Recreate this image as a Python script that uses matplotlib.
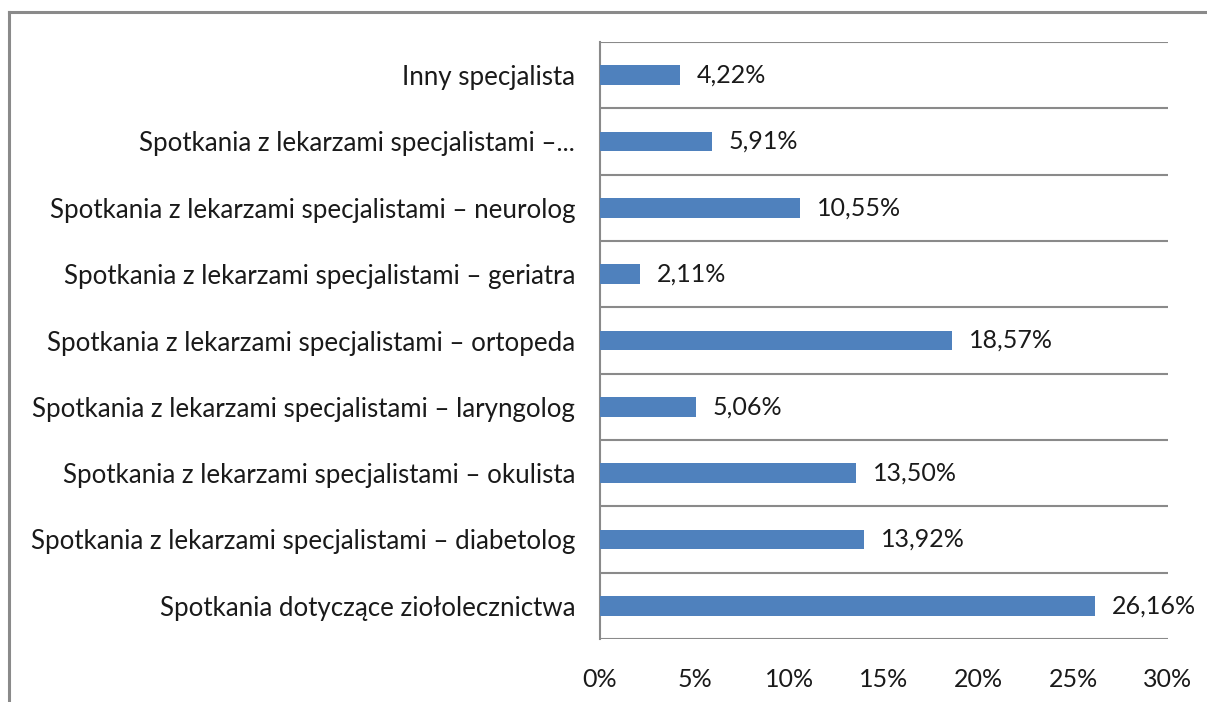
import matplotlib
matplotlib.use('Agg')
import matplotlib.pyplot as plt
from matplotlib.lines import Line2D
import numpy as np

categories = [
    'Spotkania dotyczące ziołolecznictwa',
    'Spotkania z lekarzami specjalistami – diabetolog',
    'Spotkania z lekarzami specjalistami – okulista',
    'Spotkania z lekarzami specjalistami – laryngolog',
    'Spotkania z lekarzami specjalistami – ortopeda',
    'Spotkania z lekarzami specjalistami – geriatra',
    'Spotkania z lekarzami specjalistami – neurolog',
    'Spotkania z lekarzami specjalistami –...',
    'Inny specjalista',
]
values = [26.16, 13.92, 13.50, 5.06, 18.57, 2.11, 10.55, 5.91, 4.22]
xticks = [0, 5, 10, 15, 20, 25, 30]

plt.rcParams['font.family'] = ['Lato', 'DejaVu Sans']
grey = '#8a8a8a'
fs = 18

fig = plt.figure(figsize=(12.07, 7.02), dpi=100)
ax = fig.add_axes([600 / 1207, 1 - 639 / 702, 568 / 1207, 597 / 702])

y = np.arange(len(categories))
ax.barh(y, values, height=0.3, color='#4f81bd', zorder=3)
for yi, v in zip(y, values):
    ax.text(v + 0.9, yi, f'{v:.2f}%'.replace('.', ','), va='center', ha='left',
            fontsize=fs, color='#1a1a1a')

ax.set_xlim(0, 30)
ax.set_ylim(-0.5, len(categories) - 0.5)
ax.set_xticks(xticks)
ax.set_xticklabels([f'{t}%' for t in xticks], fontsize=fs, color='#1a1a1a')
ax.set_yticks(y)
ax.set_yticklabels(categories, fontsize=18.6, color='#1a1a1a')
ax.tick_params(axis='x', length=0, pad=21)
ax.tick_params(axis='y', length=0, pad=18)

for b in np.arange(-0.5, len(categories), 1.0):
    ax.axhline(b, color=grey, lw=1.5, zorder=1)
for s in ['top', 'right', 'bottom']:
    ax.spines[s].set_visible(False)
ax.spines['left'].set_color(grey)
ax.spines['left'].set_linewidth(1.5)

# outer chart frame (cut off by the image edges)
fig.add_artist(Line2D([9 / 1207, 9 / 1207], [0, 1 - 12 / 702], color=grey, lw=2.2,
                      transform=fig.transFigure))
fig.add_artist(Line2D([9 / 1207, 1], [1 - 12 / 702, 1 - 12 / 702], color=grey, lw=2.2,
                      transform=fig.transFigure))

fig.savefig('out.png', dpi=100)
